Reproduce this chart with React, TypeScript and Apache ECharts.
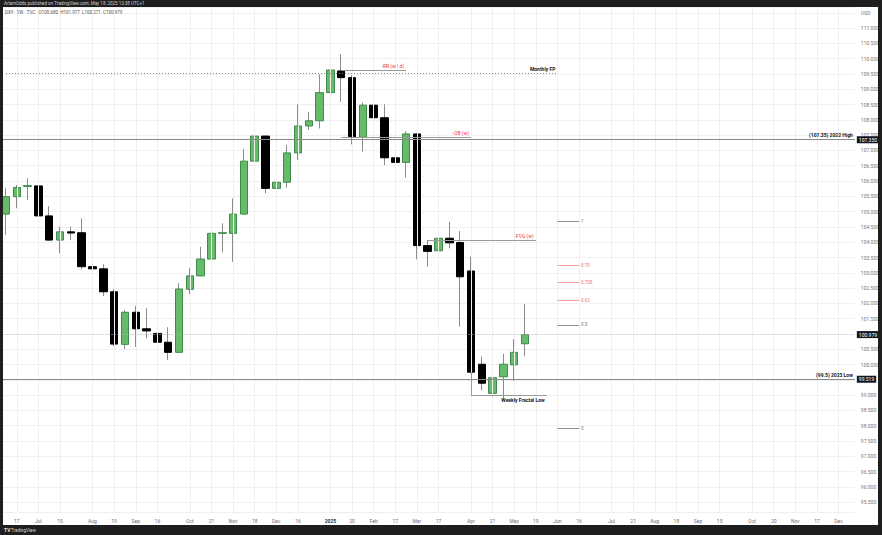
import React, { useEffect, useRef } from 'react';
import * as echarts from 'echarts';

// ---------- data ----------
const WEEK_COUNT = 79;
const FIRST_WEEK_UTC = Date.UTC(2024, 5, 10);
const weeks: string[] = Array.from({ length: WEEK_COUNT }, (_, i) =>
  new Date(FIRST_WEEK_UTC + i * 7 * 86400000).toISOString().slice(0, 10)
);

const opens = [
  104.92, 105.49, 105.82, 105.84, 104.86, 104.07, 104.34, 104.31, 103.2, 103.13,
  102.38, 100.66, 101.71, 101.17, 101.02, 100.73, 100.4, 102.46, 102.9, 103.45,
  104.29, 104.29, 104.92, 106.65, 107.47, 105.76, 105.96, 106.92, 107.8, 107.97,
  108.89, 109.6, 109.38, 107.43, 108.48, 108.07, 106.76, 106.61, 107.54, 103.89,
  103.72, 104.13, 103.99, 103.06, 100.01, 99.06, 99.6, 99.99, 100.68,
];
const closes = [
  105.49, 105.79, 105.85, 104.86, 104.07, 104.34, 104.3, 103.2, 103.13, 102.38,
  100.67, 101.71, 101.17, 101.1, 100.73, 100.4, 102.47, 102.9, 103.45, 104.29,
  104.31, 104.92, 106.65, 107.47, 105.76, 105.96, 106.92, 107.8, 107.97, 108.89,
  109.63, 109.38, 107.45, 108.48, 108.07, 106.76, 106.61, 107.54, 103.89, 103.7,
  104.13, 103.98, 102.87, 99.75, 99.39, 99.57, 100.01, 100.4, 100.979,
];
const lows = [
  104.24, 105.11, 105.38, 104.83, 104.05, 103.64, 104.07, 103.11, 102.17, 102.24,
  100.61, 100.5, 100.58, 100.86, 100.21, 100.15, 100.38, 102.3, 102.88, 103.42,
  103.67, 103.36, 104.9, 106.11, 105.6, 105.41, 105.78, 106.69, 107.67, 107.72,
  107.74, 108.59, 107.2, 106.96, 107.28, 106.52, 106.3, 106.11, 103.44, 103.2,
  103.18, 103.8, 101.24, 99.74, 99.15, 97.92, 98.9, 99.47, 100.271,
];
const highs = [
  105.76, 105.87, 106.09, 106.03, 105.18, 104.51, 104.51, 104.78, 103.51, 103.28,
  102.47, 101.78, 101.92, 101.84, 101.46, 101.22, 102.66, 103.15, 103.85, 104.56,
  104.62, 105.43, 107.05, 108.07, 107.49, 106.71, 107.18, 108.51, 108.26, 109.49,
  109.95, 110.15, 109.46, 108.57, 109.87, 108.51, 107.34, 107.63, 107.56, 104.07,
  104.26, 104.67, 104.37, 103.53, 100.26, 99.93, 100.35, 100.83, 101.977,
];

const tickIndices = [1, 3, 5, 8, 10, 12, 14, 17, 19, 21, 23, 25, 27, 30, 32, 34, 36, 38, 40, 43, 45, 47, 49, 51, 53, 56, 58, 60, 62, 64, 66, 69, 71, 73, 75, 77];
const tickTexts = ['17', 'Jul', '15', 'Aug', '19', 'Sep', '16', 'Oct', '21', 'Nov', '18', 'Dec', '16', '2025', '20', 'Feb', '17', 'Mar', '17', 'Apr', '21', 'May', '19', 'Jun', '16', 'Jul', '21', 'Aug', '18', 'Sep', '15', 'Oct', '20', 'Nov', '17', 'Dec'];

const monthlyFP = 109.52;
const rrLevel = 109.61;
const obLevel = 107.43;
const high2022 = 107.35;
const fvgLevel = 104.05;
const low2023 = 99.519;
const fractalLow = 99.0;
const lastPrice = 100.979;
const fibLow = 97.92;
const fibHigh = 104.67;
const fibRatios = [1, 0.79, 0.705, 0.62, 0.5, 0];
const fibTexts = ['1', '0.79', '0.705', '0.62', '0.5', '0'];
// axis price labels hidden behind the price boxes
const hiddenPriceLabels = [101.0, 99.5];

// ---------- styles ----------
const FONT = 'Roboto, "Liberation Sans", Arial, sans-serif';
const DARK = '#1e1e1e';
const GRID = '#f0f0f0';
const RED = '#f23645';
const INK = '#131722';
const SEG = '#9a9a9a';

const tickMap: Record<string, string> = {};
tickIndices.forEach((k, i) => (tickMap[weeks[k]] = tickTexts[i]));
const tickSet = new Set(tickIndices);

const ohlc = opens.map((o, i) => [o, closes[i], lows[i], highs[i]]);
const bodies = opens.map((o, i) => [o, closes[i], Math.min(o, closes[i]), Math.max(o, closes[i])]);

const smallLabel = (text: string, color: string, pos: string, bold = false) => ({
  show: true,
  formatter: text,
  position: pos,
  color,
  fontSize: 5,
  fontWeight: bold ? 'bold' : 'normal',
  fontFamily: FONT,
  distance: 2,
});

const segment = (i0: number, i1: number, v: number, label: any, lineStyle: any) => [
  { coord: [weeks[i0], v], label, lineStyle },
  { coord: [weeks[i1], v] },
];

const axisBox = (v: number, text: string) => ({
  yAxis: v,
  lineStyle: { color: 'rgba(0,0,0,0)', width: 1 },
  label: {
    show: true,
    position: 'end',
    formatter: text,
    color: '#ffffff',
    backgroundColor: INK,
    padding: [1, 2, 1, 2],
    fontSize: 5,
    fontFamily: FONT,
    distance: 2,
  },
});

const fibLines = fibRatios.map((r, i) => {
  const v = fibLow + r * (fibHigh - fibLow);
  const isGray = r === 1 || r === 0.5 || r === 0;
  const c = isGray ? '#8f8f8f' : '#f7a1a6';
  return segment(51, 53, v, { show: true, formatter: fibTexts[i], position: 'end', color: isGray ? '#777' : '#ef6f78', fontSize: 4.5, fontFamily: FONT, distance: 2 }, { color: c, width: 1, type: 'solid' });
});

const option: any = {
  animation: false,
  backgroundColor: '#ffffff',
  textStyle: { fontFamily: FONT },
  grid: { left: 0.59, top: 7, width: 854.8, height: 505 },
  xAxis: {
    type: 'category',
    data: weeks,
    boundaryGap: true,
    axisLine: { show: false },
    axisTick: { show: false },
    splitLine: { show: false },
    axisLabel: {
      interval: (idx: number) => tickSet.has(idx),
      formatter: (val: string) => (tickMap[val] === '2025' ? '{b|2025}' : tickMap[val] || ''),
      fontSize: 5,
      color: '#6f6f6f',
      margin: 6,
      fontFamily: FONT,
      rich: { b: { fontSize: 5, fontWeight: 'bold', color: '#333', fontFamily: FONT } },
    },
  },
  yAxis: {
    type: 'value',
    position: 'right',
    min: 95.18,
    max: 111.69,
    splitNumber: 33,
    axisLine: { show: false },
    axisTick: { show: false },
    splitLine: { show: true, lineStyle: { color: GRID, width: 1 } },
    axisLabel: {
      showMinLabel: false,
      showMaxLabel: false,
      formatter: (v: number) =>
        v > 111.2 || hiddenPriceLabels.some((h) => Math.abs(h - v) < 1e-6) ? '' : v.toFixed(3),
      fontSize: 5,
      color: '#777',
      margin: 6,
      fontFamily: FONT,
    },
  },
  series: [
    {
      name: 'grid-x',
      type: 'line',
      data: [],
      z: 0,
      silent: true,
      markLine: {
        silent: true,
        symbol: ['none', 'none'],
        label: { show: false },
        lineStyle: { color: GRID, width: 1, type: 'solid' },
        data: tickIndices.map((k) => ({ xAxis: weeks[k] })),
      },
    },
    {
      name: 'wicks',
      type: 'candlestick',
      data: ohlc,
      barWidth: 1,
      z: 2,
      itemStyle: { color: '#8c8c8c', color0: '#8c8c8c', borderColor: '#8c8c8c', borderColor0: '#8c8c8c', borderWidth: 1 },
    },
    {
      name: 'bodies',
      type: 'candlestick',
      data: bodies,
      barWidth: 8,
      z: 3,
      itemStyle: { color: '#66bb6a', color0: '#000000', borderColor: '#3f8a4b', borderColor0: '#000000', borderWidth: 1 },
    },
    {
      name: 'annotations',
      type: 'line',
      data: [],
      z: 5,
      markLine: {
        silent: true,
        symbol: ['none', 'none'],
        data: [
          segment(0, 51, monthlyFP, smallLabel('Monthly FP', INK, 'insideEndTop', true), { color: '#8a8a8a', width: 1, type: [1, 2] }),
          segment(31, 37, rrLevel, smallLabel('-RR (w | d)', RED, 'insideEndTop'), { color: SEG, width: 1, type: 'solid' }),
          segment(31, 43, obLevel, smallLabel('-OB (w)', RED, 'insideEndTop'), { color: SEG, width: 1, type: 'solid' }),
          segment(39, 49, fvgLevel, smallLabel('-FVG (w)', RED, 'insideEndTop'), { color: SEG, width: 1, type: 'solid' }),
          segment(43, 50, fractalLow, smallLabel('Weekly Fractal Low', INK, 'insideEndBottom', true), { color: SEG, width: 1, type: 'solid' }),
          [
            { coord: [weeks[43], closes[43]], label: { show: false }, lineStyle: { color: SEG, width: 1, type: 'solid' } },
            { coord: [weeks[43], fractalLow] },
          ],
          ...fibLines,
          { yAxis: high2022, label: smallLabel('(107.35) 2022 High', INK, 'insideEndTop', true), lineStyle: { color: '#8a8a8a', width: 1, type: 'solid' } },
          { yAxis: low2023, label: smallLabel('(99.5) 2023 Low', INK, 'insideEndTop', true), lineStyle: { color: '#8a8a8a', width: 1, type: 'solid' } },
          { yAxis: lastPrice, label: { show: false }, lineStyle: { color: '#c4c4c4', width: 1, type: [1, 2] } },
          axisBox(high2022, '107.350'),
          axisBox(low2023, '99.519'),
          axisBox(lastPrice, '100.979'),
        ],
      },
    },
  ],
  graphic: [
    { type: 'rect', z: 100, shape: { x: 0, y: 0, width: 882, height: 7 }, style: { fill: DARK } },
    { type: 'rect', z: 100, shape: { x: 0, y: 0, width: 3, height: 535 }, style: { fill: DARK } },
    { type: 'rect', z: 100, shape: { x: 878, y: 0, width: 4, height: 535 }, style: { fill: DARK } },
    { type: 'rect', z: 100, shape: { x: 0, y: 525, width: 882, height: 10 }, style: { fill: DARK } },
    {
      type: 'text', z: 101, x: 4, y: 3.6,
      style: { text: 'ArlamOdds published on TradingView.com, May 18, 2025 13:38 UTC+1', fill: '#d0d0d0', fontSize: 4.5, fontFamily: FONT, verticalAlign: 'middle' },
    },
    {
      type: 'text', z: 101, x: 5, y: 12.5,
      style: { text: 'DXY · 1W · TVC   O100.680  H101.977  L100.271  C100.979', fill: '#555', fontSize: 4.5, fontFamily: FONT, verticalAlign: 'middle' },
    },
    {
      type: 'text', z: 101, x: 861, y: 12.5,
      style: { text: 'USD', fill: '#777', fontSize: 5, fontFamily: FONT, verticalAlign: 'middle' },
    },
    {
      type: 'text', z: 101, x: 4, y: 530,
      style: { text: 'TV', fill: '#e0e0e0', fontSize: 5, fontWeight: 'bold', fontFamily: FONT, verticalAlign: 'middle' },
    },
    {
      type: 'text', z: 101, x: 11, y: 530,
      style: { text: 'TradingView', fill: '#d8d8d8', fontSize: 4.5, fontFamily: FONT, verticalAlign: 'middle' },
    },
  ],
};

export default function App() {
  const ref = useRef<HTMLDivElement>(null);
  useEffect(() => {
    if (!ref.current) return;
    const chart = echarts.init(ref.current, null, { renderer: 'svg' });
    chart.setOption(option);
    return () => chart.dispose();
  }, []);
  return (
    <div
      ref={ref}
      style={{ position: 'fixed', left: 0, top: 0, width: 882, height: 535, background: '#fff' }}
    />
  );
}
